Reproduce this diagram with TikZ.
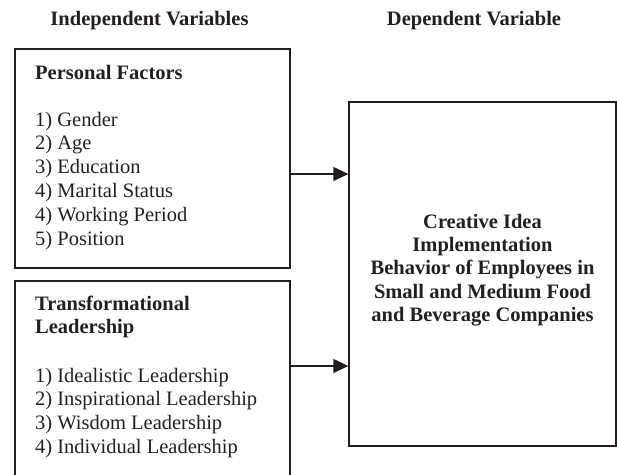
\documentclass[tikz,border=0pt]{standalone}
\usepackage{fontspec}
\setmainfont{Liberation Serif}
\usetikzlibrary{arrows.meta}
\definecolor{ink}{HTML}{231F20}
\begin{document}
\begin{tikzpicture}[x=1pt,y=-1pt,
  frame/.style={draw=ink, line width=1.3pt, inner sep=0pt},
  txt/.style={anchor=base west, inner sep=0pt, text=ink, font=\fontsize{20.5}{23.7}\selectfont},
  bold/.style={txt, font=\fontsize{20.5}{23.7}\selectfont\bfseries},
  ctr/.style={anchor=base, inner sep=0pt, text=ink, font=\fontsize{20.5}{23.7}\selectfont\bfseries},
  link/.style={draw=ink, line width=1.3pt, -{Triangle[length=15pt,width=14pt]}}]
\useasboundingbox (0,0) rectangle (617,474);

% column headings
\node[ctr] (hiv) at (149.5,25) {Independent Variables};
\node[ctr] (hdv) at (474,25) {Dependent Variable};

% boxes
\node[frame, minimum width=275pt, minimum height=219pt] (pf) at (152.5,158.5) {};
\node[frame, minimum width=275pt, minimum height=209pt] (tl) at (152.5,385.5) {};
\node[frame, minimum width=267pt, minimum height=344pt] (dv) at (482.5,274) {};

% personal factors
\node[bold] (pf0) at (35,79) {Personal Factors};
\foreach \t [count=\i] in {1) Gender, 2) Age, 3) Education, 4) Marital Status, 4) Working Period, 5) Position}
  \node[txt] (pf\i) at (35,{126+23.8*(\i-1)}) {\t};

% transformational leadership
\node[bold] (tla) at (35,310) {Transformational};
\node[bold] (tlb) at (35,333) {Leadership};
\foreach \t [count=\i] in {1) Idealistic Leadership, 2) Inspirational Leadership, 3) Wisdom Leadership, 4) Individual Leadership}
  \node[txt] (tl\i) at (35,{382+23.7*(\i-1)}) {\t};

% dependent variable
\foreach \t [count=\i] in {Creative Idea, Implementation, Behavior of Employees in, Small and Medium Food, and Beverage Companies}
  \node[ctr] (dv\i) at (482.5,{228+23.45*(\i-1)}) {\t};

% connectors
\coordinate (r1) at (0,174);
\coordinate (r2) at (0,366);
\draw[link] (pf.east |- r1) -- (dv.west |- r1);
\draw[link] (tl.east |- r2) -- (dv.west |- r2);
\end{tikzpicture}
\end{document}
